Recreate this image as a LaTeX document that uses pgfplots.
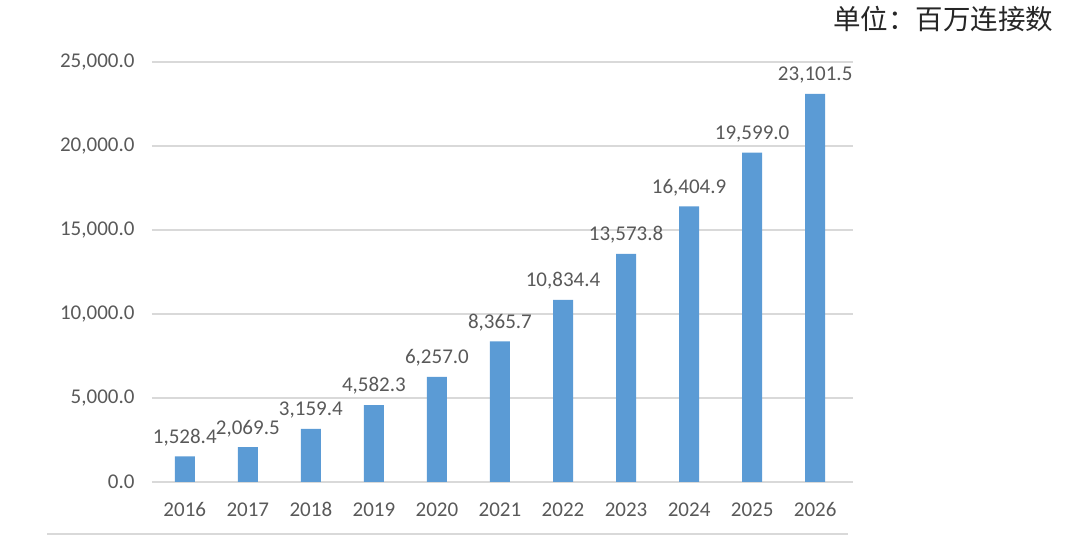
\documentclass[border=0pt]{standalone}
\usepackage{pgfplots}
\pgfplotsset{compat=1.18}
\usepackage{fontspec}
\setmainfont{Carlito}
\newfontfamily\cjk{Noto Sans CJK SC}
\definecolor{barblue}{HTML}{5B9BD5}
\definecolor{txtgray}{HTML}{595959}
\definecolor{gridgray}{HTML}{D9D9D9}
\begin{document}
\begin{tikzpicture}
\useasboundingbox (0pt,0pt) rectangle (1080pt,538pt);
\begin{axis}[
  at={(152pt,56pt)}, anchor=south west,
  scale only axis, width=701pt, height=420pt,
  xmin=-0.52, xmax=10.6, ymin=0, ymax=25000,
  axis line style={draw=none},
  ytick={0,5000,10000,15000,20000,25000},
  ymajorgrids, grid style={gridgray, line width=1.2pt},
  xtick=data,
  xticklabels={2016,2017,2018,2019,2020,2021,2022,2023,2024,2025,2026},
  major tick length=0pt,
  tick label style={font=\fontsize{21}{24}\selectfont, text=txtgray},
  /pgf/number format/assume math mode=true,
  yticklabel={\pgfmathprintnumber[fixed,fixed zerofill,precision=1,1000 sep={,}]{\tick}},
  scaled y ticks=false,
  yticklabel style={xshift=-14pt},
  xticklabel style={yshift=-17pt},
  nodes near coords,
  nodes near coords style={font=\fontsize{21}{24}\selectfont, text=txtgray, yshift=7pt},
  every node near coord/.append style={/pgf/number format/.cd, fixed, fixed zerofill, precision=1, 1000 sep={,}, assume math mode=true},
  clip=false,
]
\addplot[ybar, bar width=20pt, fill=barblue, draw=none] coordinates {
(0,1528.4) (1,2069.5) (2,3159.4) (3,4582.3) (4,6257.0) (5,8365.7)
(6,10834.4) (7,13573.8) (8,16404.9) (9,19599.0) (10,23101.5)};
\end{axis}
\draw[gridgray, line width=1.2pt] (47pt,4pt) -- (848pt,4pt);
\node[anchor=north east, text=black!85, font=\cjk\fontsize{27.5}{30}\selectfont] at (1057pt,535pt) {单位：百万连接数};
\end{tikzpicture}
\end{document}
